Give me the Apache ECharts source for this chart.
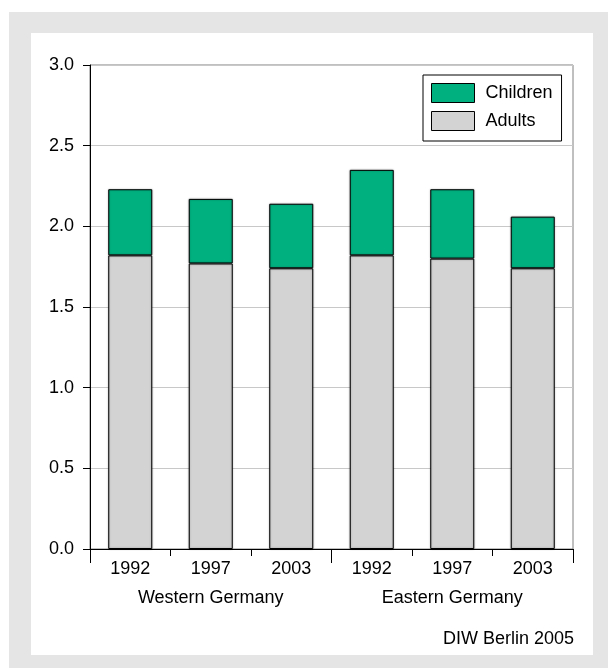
<!DOCTYPE html>
<html>
<head>
<meta charset="utf-8">
<script src="https://cdn.jsdelivr.net/npm/echarts@6/dist/echarts.min.js"></script>
<style>
  html, body { margin: 0; padding: 0; background: #ffffff; }
  #bg { position: absolute; left: 9px; top: 12px; width: 599px; height: 656px; background: #e5e5e5; }
  #panel { position: absolute; left: 31px; top: 33px; width: 562px; height: 622px; background: #ffffff; }
  #chart { position: absolute; left: 0; top: 0; width: 608px; height: 668px; }
</style>
</head>
<body>
<div id="bg"></div>
<div id="panel"></div>
<div id="chart"></div>
<script>
const years = ['1992', '1997', '2003', '1992', '1997', '2003'];
const regions = ['Western Germany', 'Eastern Germany'];
const adults = [1.82, 1.77, 1.74, 1.82, 1.80, 1.74];
const children = [0.41, 0.40, 0.40, 0.53, 0.43, 0.32];
const yTicks = { min: 0, max: 3, interval: 0.5 };
const sourceText = 'DIW Berlin 2005';

const FONT = 'Liberation Sans, Arial, Helvetica, sans-serif';
const chart = echarts.init(document.getElementById('chart'), null, { renderer: 'canvas' });

const barStyle = (color) => ({
  color: color,
  borderColor: '#000',
  borderWidth: 1,
  shadowColor: 'rgba(0,0,0,0.3)',
  shadowBlur: 2
});

chart.setOption({
  backgroundColor: 'transparent',
  textStyle: { fontFamily: FONT },
  animation: false,
  title: {
    text: sourceText,
    right: 29,
    top: 625,
    textStyle: { fontFamily: FONT, fontSize: 18, fontWeight: 'normal', color: '#000' }
  },
  legend: {
    data: ['Children', 'Adults'],
    orient: 'vertical',
    left: 423,
    top: 75,
    padding: [8, 9, 10, 8],
    itemGap: 8,
    itemWidth: 43,
    itemHeight: 19,
    icon: 'rect',
    borderColor: '#000',
    borderWidth: 1,
    backgroundColor: '#fff',
    itemStyle: { borderColor: '#000', borderWidth: 1 },
    textStyle: { fontFamily: FONT, fontSize: 18, color: '#000', padding: [0, 0, 0, 6] }
  },
  grid: {
    left: 90, right: 35, top: 65, bottom: 119,
    show: true, borderColor: '#808080', borderWidth: 1, backgroundColor: 'transparent'
  },
  xAxis: [
    {
      type: 'category',
      data: years,
      position: 'bottom',
      axisLine: { show: true, lineStyle: { color: '#000', width: 1 } },
      axisTick: { show: true, length: 7, lineStyle: { color: '#000' } },
      axisLabel: { fontFamily: FONT, fontSize: 18, color: '#000', margin: 11 },
      splitLine: { show: false }
    },
    {
      type: 'category',
      data: regions,
      position: 'bottom',
      offset: 0,
      axisLine: { show: false },
      axisTick: { show: true, length: 14, lineStyle: { color: '#000' } },
      axisLabel: { fontFamily: FONT, fontSize: 18, color: '#000', margin: 40 },
      splitLine: { show: false }
    }
  ],
  yAxis: {
    type: 'value',
    min: yTicks.min,
    max: yTicks.max,
    interval: yTicks.interval,
    axisLine: { show: true, lineStyle: { color: '#000', width: 1 } },
    axisTick: { show: true, length: 7, lineStyle: { color: '#000' } },
    axisLabel: {
      fontFamily: FONT, fontSize: 18, color: '#000', margin: 16,
      formatter: (v) => v.toFixed(1)
    },
    splitLine: { show: true, lineStyle: { color: '#c8c8c8', width: 1 } }
  },
  series: [
    {
      name: 'Adults',
      type: 'bar',
      stack: 'total',
      xAxisIndex: 0,
      data: adults,
      barWidth: 44,
      itemStyle: barStyle('#d3d3d3')
    },
    {
      name: 'Children',
      type: 'bar',
      stack: 'total',
      xAxisIndex: 0,
      data: children,
      barWidth: 44,
      itemStyle: barStyle('#00b07f')
    }
  ]
});
</script>
</body>
</html>
